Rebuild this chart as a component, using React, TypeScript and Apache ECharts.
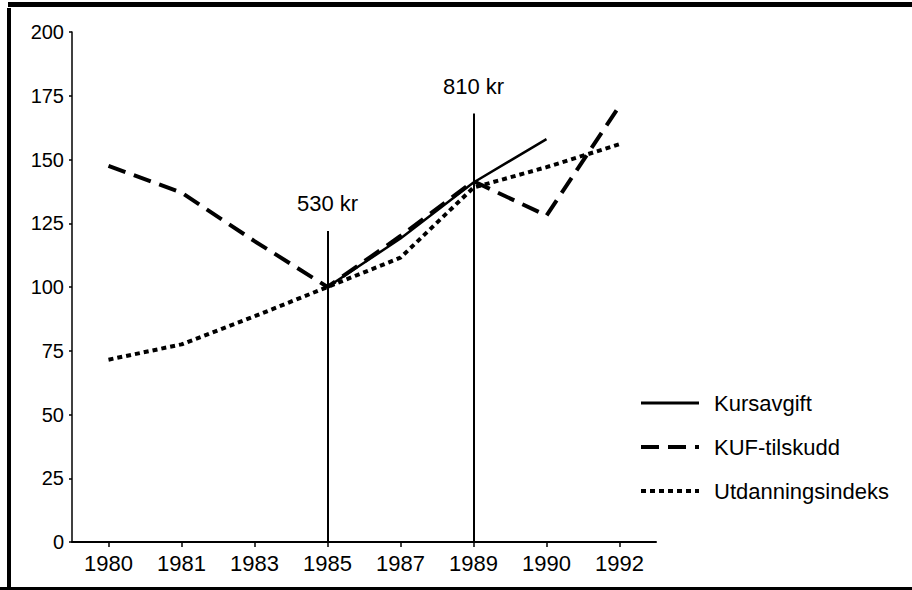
import React, { useEffect, useRef } from "react";
import * as echarts from "echarts";

const years = ["1980", "1981", "1983", "1985", "1987", "1989", "1990", "1992"];
const kursavgift = [null, null, null, 100, 119, 141, 158, null];
const kufTilskudd = [147.5, 137, 118, 100, 120, 141.5, 128, 171];
const utdanningsindeks = [71.5, 77.5, 88.5, 100, 111.5, 139, 147, 156];
const yTicks = { min: 0, max: 200, interval: 25 };
const markerYears = ["1985", "1989"];
const markerTops = [122, 168];
const markerLabels = ["530 kr", "810 kr"];
const seriesNames = ["Kursavgift", "KUF-tilskudd", "Utdanningsindeks"];

const FONT = "'Liberation Sans', Arial, Helvetica, sans-serif";

export default function App() {
  const ref = useRef<HTMLDivElement>(null);
  useEffect(() => {
    if (!ref.current) return;
    const chart = echarts.init(ref.current, null, { renderer: "svg" });
    const markData = markerYears.map((yr, i) => [
      { coord: [yr, 0] },
      { coord: [yr, markerTops[i]], label: { formatter: markerLabels[i] } },
    ]);
    chart.setOption({
      animation: false,
      backgroundColor: "#ffffff",
      textStyle: { fontFamily: FONT, color: "#000" },
      grid: { left: 72, right: 256, top: 32, bottom: 48, containLabel: false },
      legend: {
        orient: "vertical",
        left: 634,
        top: 387,
        itemWidth: 58,
        itemHeight: 22,
        itemGap: 22,
        itemStyle: { opacity: 0 },
        data: [
          { name: seriesNames[0], lineStyle: { width: 3 } },
          { name: seriesNames[1], lineStyle: { width: 4 } },
          { name: seriesNames[2], lineStyle: { width: 4 } },
        ],
        textStyle: { fontFamily: FONT, fontSize: 22, color: "#000", padding: [0, 0, 0, 10] },
      },
      xAxis: {
        type: "category",
        data: years,
        boundaryGap: true,
        axisLine: { lineStyle: { color: "#000", width: 2 } },
        axisTick: { show: true, alignWithLabel: true, length: 5, lineStyle: { color: "#000", width: 1.5 } },
        axisLabel: { color: "#000", fontSize: 22, fontFamily: FONT, margin: 10 },
        splitLine: { show: false },
      },
      yAxis: {
        type: "value",
        min: yTicks.min,
        max: yTicks.max,
        interval: yTicks.interval,
        axisLine: { show: true, lineStyle: { color: "#000", width: 1.5 } },
        axisTick: { show: true, length: 3, lineStyle: { color: "#000", width: 1.5 } },
        axisLabel: { color: "#000", fontSize: 20, fontFamily: FONT, margin: 8 },
        splitLine: { show: false },
      },
      graphic: [
        { type: "rect", shape: { x: 8, y: 2, width: 904, height: 5 }, style: { fill: "#000" } },
        { type: "rect", shape: { x: 7, y: 8, width: 4, height: 580 }, style: { fill: "#000" } },
        { type: "rect", shape: { x: 0, y: 587, width: 912, height: 3 }, style: { fill: "#000" } },
      ],
      series: [
        {
          name: seriesNames[0],
          type: "line",
          data: kursavgift,
          symbol: "none",
          lineStyle: { color: "#000", width: 2.5, type: "solid" },
          itemStyle: { color: "#000" },
          markLine: {
            silent: true,
            symbol: ["none", "none"],
            lineStyle: { color: "#000", width: 2, type: "solid" },
            label: {
              show: true,
              position: "end",
              distance: 16,
              color: "#000",
              fontSize: 22,
              fontFamily: FONT,
            },
            data: markData,
          },
        },
        {
          name: seriesNames[1],
          type: "line",
          data: kufTilskudd,
          symbol: "none",
          lineStyle: { color: "#000", width: 4, type: [18, 9] },
          itemStyle: { color: "#000" },
        },
        {
          name: seriesNames[2],
          type: "line",
          data: utdanningsindeks,
          symbol: "none",
          lineStyle: { color: "#000", width: 4, type: [5, 4] },
          itemStyle: { color: "#000" },
        },
      ],
    });
    return () => chart.dispose();
  }, []);
  return (
    <div
      ref={ref}
      style={{ position: "fixed", left: 0, top: 0, width: 912, height: 590, background: "#fff" }}
    />
  );
}
